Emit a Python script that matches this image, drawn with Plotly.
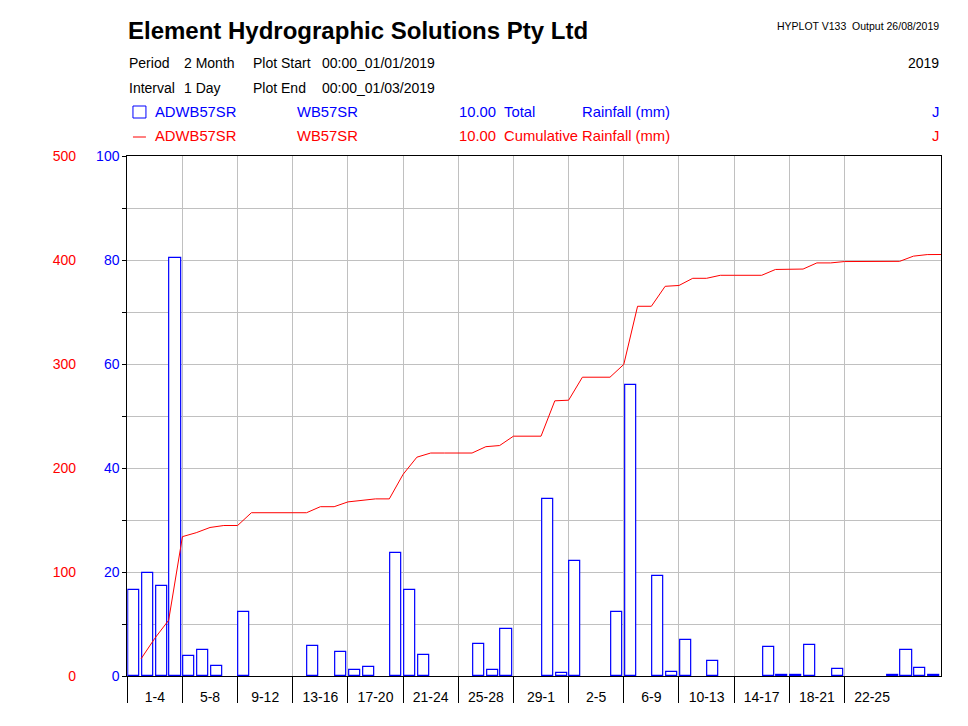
import plotly.graph_objects as go
import numpy as np

# ---------------- data ----------------
days = list(range(1, 60))  # 1 Jan 2019 .. 28 Feb 2019 (day number)
rain = [16.5, 19.8, 17.3, 80.4, 3.8, 5.0, 1.9, 0.0, 12.3, 0.0,
        0.0, 0.0, 0.0, 5.8, 0.0, 4.6, 1.1, 1.8, 0.0, 23.6,
        16.5, 4.0, 0.0, 0.0, 0.0, 6.1, 1.1, 9.0, 0.0, 0.0,
        34.0, 0.6, 22.1, 0.0, 0.0, 12.3, 55.9, 0.0, 19.2, 0.8,
        6.9, 0.0, 2.9, 0.0, 0.0, 0.0, 5.6, 0.2, 0.2, 5.9,
        0.0, 1.3, 0.0, 0.0, 0.0, 0.2, 5.0, 1.5, 0.1]
group_labels = ["1-4", "5-8", "9-12", "13-16", "17-20", "21-24", "25-28",
                "29-1", "2-5", "6-9", "10-13", "14-17", "18-21", "22-25"]
group_starts = list(range(0, 56, 4))
left_ticks = list(range(0, 101, 10))
left_labels = [str(v) if v % 20 == 0 else "" for v in left_ticks]
right_ticks = list(range(0, 501, 100))
cum = np.cumsum(rain)

# ---------------- layout helpers ----------------
OFF = 8  # page body margin
W, H = 968, 726
PLOT_L, PLOT_R, PLOT_T, PLOT_B = 127.3, 941.5, 156, 676  # page pixels
L = 52
T = PLOT_T - OFF
R = W - (PLOT_R - OFF)
B = H - (PLOT_B - OFF)
PW, PH = W - L - R, H - T - B


def fx(px):
    return (px - OFF - L) / PW


def fy(py):
    return (H - B - (py - OFF)) / PH


FONT = "Arial, Liberation Sans, sans-serif"
BLUE = "#0000FF"
RED = "#FF0000"
GRID = "#C0C0C0"

fig = go.Figure()
fig.add_trace(go.Bar(
    x=[d - 0.52 for d in days], y=[v if v > 0 else None for v in rain],
    width=0.8,
    marker=dict(color="white", line=dict(color=BLUE, width=1.2)),
    xaxis="x", yaxis="y", hoverinfo="skip"))
fig.add_trace(go.Scatter(
    x=days, y=cum, mode="lines", line=dict(color=RED, width=1),
    xaxis="x", yaxis="y2", hoverinfo="skip"))

ann = []


def txt(px, py, s, color="black", size=14, anchor="left", bold=False):
    ann.append(dict(x=fx(px), y=fy(py), xref="paper", yref="paper",
                    text=("<b>%s</b>" % s) if bold else s, showarrow=False,
                    xanchor=anchor, yanchor="middle",
                    font=dict(family=FONT, size=size, color=color)))


txt(126, 31, "Element Hydrographic Solutions Pty Ltd", size=24, bold=True)
txt(942, 26, "HYPLOT V133&nbsp; Output 26/08/2019", size=10.5, anchor="right")
txt(942, 63, "2019", size=14, anchor="right")
txt(127, 63, "Period")
txt(182, 63, "2 Month")
txt(251, 63, "Plot Start")
txt(320, 63, "00:00_01/01/2019")
txt(127, 88, "Interval")
txt(182, 88, "1 Day")
txt(251, 88, "Plot End")
txt(320, 88, "00:00_01/03/2019")
LS = 14.8
txt(153, 112, "ADWB57SR", BLUE, size=LS)
txt(295, 112, "WB57SR", BLUE, size=LS)
txt(457, 112, "10.00", BLUE, size=LS)
txt(502, 112, "Total", BLUE, size=LS)
txt(580, 112, "Rainfall (mm)", BLUE, size=LS)
txt(942, 112, "J", BLUE, size=LS, anchor="right")
txt(153, 136, "ADWB57SR", RED, size=LS)
txt(295, 136, "WB57SR", RED, size=LS)
txt(457, 136, "10.00", RED, size=LS)
txt(502, 136, "Cumulative Rainfall (mm)", RED, size=LS)
txt(942, 136, "J", RED, size=LS, anchor="right")

shapes = [
    dict(type="rect", xref="paper", yref="paper", x0=fx(133), x1=fx(146),
         y0=fy(118), y1=fy(106), line=dict(color=BLUE, width=1)),
    dict(type="line", xref="paper", yref="paper", x0=fx(133), x1=fx(146),
         y0=fy(137), y1=fy(137), line=dict(color=RED, width=1)),
]

fig.update_layout(
    width=W, height=H, margin=dict(l=L, r=R, t=T, b=B),
    paper_bgcolor="white", plot_bgcolor="white", showlegend=False,
    bargap=0, annotations=ann, shapes=shapes,
    xaxis=dict(domain=[fx(PLOT_L), 1], range=[0, 59],
               tickmode="array", tickvals=[s + 2 for s in group_starts],
               ticktext=group_labels, ticks="", showgrid=False,
               showline=True, linecolor="black", linewidth=1, mirror=True,
               zeroline=False, ticklabelstandoff=8,
               tickfont=dict(family=FONT, size=14, color="black"),
               minor=dict(tickmode="array", tickvals=group_starts,
                          ticks="outside", ticklen=26, tickcolor="black",
                          tickwidth=1, showgrid=True, gridcolor=GRID,
                          gridwidth=1)),
    yaxis=dict(range=[0, 100], tickmode="array", tickvals=left_ticks,
               ticktext=left_labels, ticks="outside", ticklen=4,
               tickcolor="black", showgrid=True, gridcolor=GRID, gridwidth=1,
               showline=True, linecolor="black", linewidth=1, mirror=True,
               zeroline=False,
               tickfont=dict(family=FONT, size=14, color=BLUE)),
    yaxis2=dict(range=[0, 500], overlaying="y", anchor="free",
                position=fx(76), side="left", tickmode="array",
                tickvals=right_ticks, ticks="", showgrid=False,
                showline=False, zeroline=False,
                tickfont=dict(family=FONT, size=14, color=RED)),
)

fig.write_html("out.html")
